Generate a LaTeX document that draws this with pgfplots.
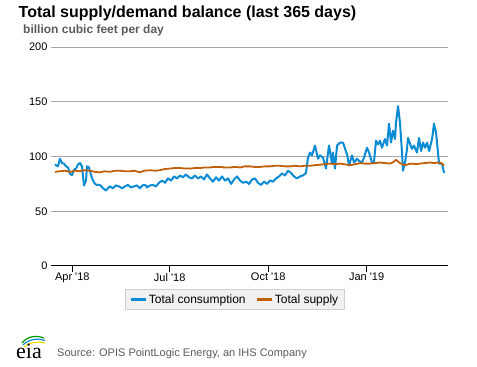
\documentclass[border=0pt]{standalone}
\usepackage{pgfplots}
\pgfplotsset{compat=1.18}
\usepackage{fontspec}
\setmainfont{Liberation Sans}
\newfontfamily\serifeia{Liberation Serif}
\definecolor{cons}{HTML}{0A8BD4}
\definecolor{supp}{HTML}{C0600A}
\definecolor{gridc}{HTML}{A8A8A8}
\definecolor{subc}{HTML}{5A5A5A}
\definecolor{legfill}{HTML}{F0F0F0}
\definecolor{legdraw}{HTML}{D0D0D0}
\begin{document}
\begin{tikzpicture}[x=1pt,y=1pt]
\useasboundingbox (0,0) rectangle (477,367);
\node[anchor=base west,inner sep=0] at (18.5,349.5) {\fontsize{16}{18}\selectfont\bfseries Total supply/demand balance (last 365 days)};
\node[anchor=base west,inner sep=0,text=subc] at (23,333.5) {\fontsize{12}{14}\selectfont\bfseries billion cubic feet per day};
\begin{axis}[
  at={(51pt,101pt)}, anchor=south west,
  scale only axis, width=396.5pt, height=219pt,
  xmin=-19.9, xmax=350.5, ymin=0, ymax=200,
  axis x line*=bottom, axis y line*=left,
  y axis line style={draw=none},
  x axis line style={black,line width=1pt,-},
  ytick={0,50,100,150,200},
  ymajorgrids, grid style={gridc,line width=1pt},
  ytick style={draw=none},
  xtick={0,91,183,275},
  xticklabels={Apr \textquotesingle 18,Jul \textquotesingle 18,Oct \textquotesingle 18,Jan \textquotesingle 19},
  xtick align=outside, major tick length=6pt,
  x tick style={black,line width=1pt},
  tick label style={font=\fontsize{11}{13}\selectfont},
  xticklabel style={yshift=2.5pt},
  /pgf/number format/assume math mode=true,
  legend columns=2,
  legend style={at={(0.464,-0.153)},anchor=center,fill=legfill,draw=legdraw,line width=1pt,
    font=\fontsize{12}{14}\selectfont,inner xsep=4pt,inner ysep=3pt,
    /tikz/every even column/.append style={column sep=8pt}},
  legend image code/.code={\draw[#1,line width=2.2pt] (0pt,0pt) -- (15pt,0pt);},
]
\addplot[cons,line width=2pt,line join=round] coordinates {
(-16.2,92.7)(-13.4,91)(-11.5,98)(-9.6,94)(-7.8,93.5)(-5.9,91)(-4.0,90)(-2.1,84)(-0.3,83)
(1.6,88)(3.5,89)(5.3,92.7)(7.2,94)(9.1,91)(10.9,73.5)(12.8,78)(13.7,91)(15.6,90)(17.5,83)
(19.3,78)(21.2,75)(23.1,74)(25.9,74)(28.7,71)(31.5,69)(33.3,71)(35.2,72.7)(38.0,71)
(40.8,73.6)(43.6,72.7)(46.4,71)(49.2,72.7)(52.0,74)(54.8,71.8)(57.6,72.7)(60.4,73.6)
(63.2,71)(66.0,74)(68.8,73.6)(69.8,71.8)(72.6,73.6)(75.4,74)(78.2,72.7)(81.0,76)
(83.8,78)(86.6,76)(89.4,80)(92.2,78)(95.0,81.8)(97.8,80)(100.6,82.7)(103.4,81)
(106.2,83.6)(109.0,81)(111.8,80)(114.6,82.7)(117.4,80)(120.2,81.8)(123.0,79)(125.8,83.6)
(128.6,80)(131.4,77)(134.3,81)(137.1,78)(139.9,81.8)(142.7,78)(145.5,80)(148.3,75)
(151.1,79)(153.9,81.8)(156.7,78)(159.5,76)(162.3,77)(165.1,75)(167.9,79)(170.7,80)
(173.5,76)(176.3,74)(179.1,77)(181.9,75)(184.7,78)(187.5,77)(190.3,80)(193.1,81.8)
(195.9,84.5)(198.7,82.7)(201.5,87)(204.3,85)(207.1,81.8)(209.9,80)(212.7,81.8)(215.5,82.7)
(218.3,85)(220.2,99)(222.1,103.6)(223.9,101)(226.7,110)(229.5,98)(231.4,101)(234.2,99)
(237.0,89)(239.8,110)(242.6,93.6)(243.5,103.6)(245.4,89)(247.3,110)(250.1,112.7)
(252.9,112.7)(256.9,101)(258.5,91.8)(261.3,101)(263.2,94.5)(266.0,98)(267.8,96)
(270.6,94.5)(272.5,99)(275.3,108)(277.2,103.6)(280.0,94.5)(281.8,94.5)(283.7,114.5)
(285.6,111)(287.4,114.5)(289.3,108)(292.1,116)(294.0,110)(295.9,130)(297.7,112.7)
(299.6,123.6)(301.5,116)(302.4,131)(304.3,146)(306.1,131)(308.0,103.6)(308.9,87)
(310.8,94.5)(312.7,107)(313.6,117)(315.5,111.8)(317.3,107)(319.2,110)(322.0,103.6)
(323.9,117)(325.8,105)(327.6,112.7)(329.5,108)(331.4,112.7)(333.3,105)(336.1,116)
(337.9,130)(339.8,121.8)(341.7,102.7)(342.6,93.6)(345.4,93.6)(347.3,85)
};
\addlegendentry{Total consumption}
\addplot[supp,line width=1.8pt,line join=round] coordinates {
(-16.2,86)(-12,86.5)(-6.8,87)(-2,86)(2.5,87)(7.2,86.5)(11,87.5)(16.5,87)(21,86)(25.9,85.5)
(30,86.5)(35.2,86)(40,87)(44.6,87)(49,86.5)(54.0,86.5)(58,87)(63.2,85.5)(67,87)(72.6,87.5)
(77,87)(81.9,87.5)(86,88.5)(91.3,89)(96,89.5)(100.6,89.5)(105,89)(110.0,89)(115,89.5)
(119.3,89.5)(124,90)(128.6,90)(133,90.5)(138.0,90.5)(142,90)(147.3,90)(152,90.5)(156.7,90)
(161,91)(166.0,91)(170,90.5)(175.4,90.5)(180,91)(184.7,91)(189,91.5)(194.1,91.5)(199,91)
(203.4,91)(208,91.5)(212.7,91)(217,91.5)(222.1,91.5)(226,92)(231.4,92.5)(236,93)(240.8,93.5)
(245,93)(250.1,93.5)(254,93)(259.4,92)(264.4,93)(269.0,94)(273,93.5)(278.2,93.5)(283,94)
(287.4,94.5)(292,94)(296.8,93.5)(300,95)(302.4,97)(306.1,94)(310.8,92)(314,93)(317.3,93.5)
(321,93)(324.8,93.5)(329,94)(334.2,94.5)(338,94)(341.7,94.5)(344.5,94)(347.3,92)
};
\addlegendentry{Total supply}
\end{axis}
% eia logo
\draw[green!60!black,line width=1.2pt] (22,24) .. controls (28,31) and (36,32) .. (44,29);
\draw[cons,line width=1.2pt] (23,22) .. controls (29,28) and (37,29) .. (45,26.5);
\draw[yellow!80!orange,line width=1.2pt] (24,20) .. controls (30,25) and (38,26) .. (45,24);
\node[anchor=base west,inner sep=0] at (16,8) {\serifeia\fontsize{22}{24}\selectfont eia};
\node[anchor=base west,inner sep=0,text=subc] at (57,10) {\fontsize{11}{13}\selectfont Source: OPIS PointLogic Energy, an IHS Company};
\end{tikzpicture}
\end{document}
